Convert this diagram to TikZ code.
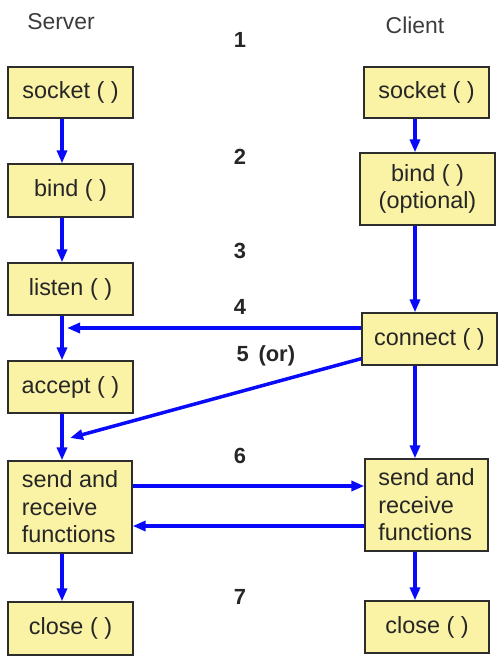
\documentclass[tikz,border=0pt]{standalone}
\usepackage{fontspec}
\setmainfont{Liberation Sans}
\usetikzlibrary{arrows.meta}
\definecolor{boxfill}{RGB}{250,242,165}
\definecolor{boxline}{RGB}{45,45,45}
\definecolor{arrblue}{RGB}{10,10,250}
\definecolor{lblgray}{RGB}{60,60,60}
\begin{document}
\begin{tikzpicture}[x=1bp,y=-1bp,
  box/.style={draw=boxline, line width=1.3bp, fill=boxfill, inner sep=0pt,
    text=black!85, font=\fontsize{23.5}{27.5}\selectfont},
  conn/.style={draw=arrblue, line width=3.5bp, -{Triangle[length=13bp,width=10bp]}},
  num/.style={font=\fontsize{22}{26}\selectfont\bfseries, text=black!85},
  head/.style={font=\fontsize{23}{26}\selectfont, text=lblgray}]
\useasboundingbox (0,0) rectangle (504,666);
% labels
\node[head] (lserver) at (61,22) {Server};
\node[head] (lclient) at (415,25) {Client};
\node[num] (n1) at (240,40) {1};
\node[num] (n2) at (240,157) {2};
\node[num] (n3) at (240,251) {3};
\node[num] (n4) at (240,307) {4};
\node[num, anchor=west] (n5) at (233,356) {5\hspace{0.45em}(or)};
\node[num] (n6) at (240,456) {6};
\node[num] (n7) at (240,597) {7};
% server boxes
\node[box, minimum width=125bp, minimum height=51bp] (ssock) at (70.5,92.5) {socket ( )};
\node[box, minimum width=125bp, minimum height=53bp] (sbind) at (70.5,190.5) {bind ( )};
\node[box, minimum width=125bp, minimum height=52bp] (slist) at (70.5,289) {listen ( )};
\node[box, minimum width=125bp, minimum height=52bp] (sacc) at (70.5,387) {accept ( )};
\node[box, minimum width=124bp, minimum height=92bp, align=left] (ssr) at (70,507) {send and\\receive\\functions};
\node[box, minimum width=125bp, minimum height=53bp] (sclose) at (70.5,628.5) {close ( )};
% client boxes
\node[box, minimum width=125bp, minimum height=51bp] (csock) at (426.5,92.5) {socket ( )};
\node[box, minimum width=135bp, minimum height=72bp, align=center] (cbind) at (427.5,189) {bind ( )\\(optional)};
\node[box, minimum width=135bp, minimum height=52bp] (ccon) at (429.5,339) {connect ( )};
\node[box, minimum width=123bp, minimum height=92bp, align=left] (csr) at (426.5,505) {send and\\receive\\functions};
\node[box, minimum width=124bp, minimum height=52bp] (cclose) at (427,627) {close ( )};
% column coordinates
\coordinate (sx) at (62,0);
\coordinate (cx) at (415,0);
\coordinate (t4) at (67,328);
\coordinate (t5) at (70,438);
\coordinate (r1) at (0,486);
\coordinate (r2) at (0,526);
% server flow
\draw[conn] (ssock.south -| sx) -- (sbind.north -| sx);
\draw[conn] (sbind.south -| sx) -- (slist.north -| sx);
\draw[conn] (slist.south -| sx) -- (sacc.north -| sx);
\draw[conn] (sacc.south -| sx) -- (ssr.north -| sx);
\draw[conn] (ssr.south -| sx) -- (sclose.north -| sx);
% client flow
\draw[conn] (csock.south -| cx) -- (cbind.north -| cx);
\draw[conn] (cbind.south -| cx) -- (ccon.north -| cx);
\draw[conn] (ccon.south -| cx) -- (csr.north -| cx);
\draw[conn] (csr.south -| cx) -- (cclose.north -| cx);
% cross connections
\draw[conn] (ccon.west |- t4) -- (t4);
\draw[conn] ([yshift=7bp]ccon.south west) -- (t5);
\draw[conn] (ssr.east |- r1) -- (csr.west |- r1);
\draw[conn] (csr.west |- r2) -- (ssr.east |- r2);
\end{tikzpicture}
\end{document}
